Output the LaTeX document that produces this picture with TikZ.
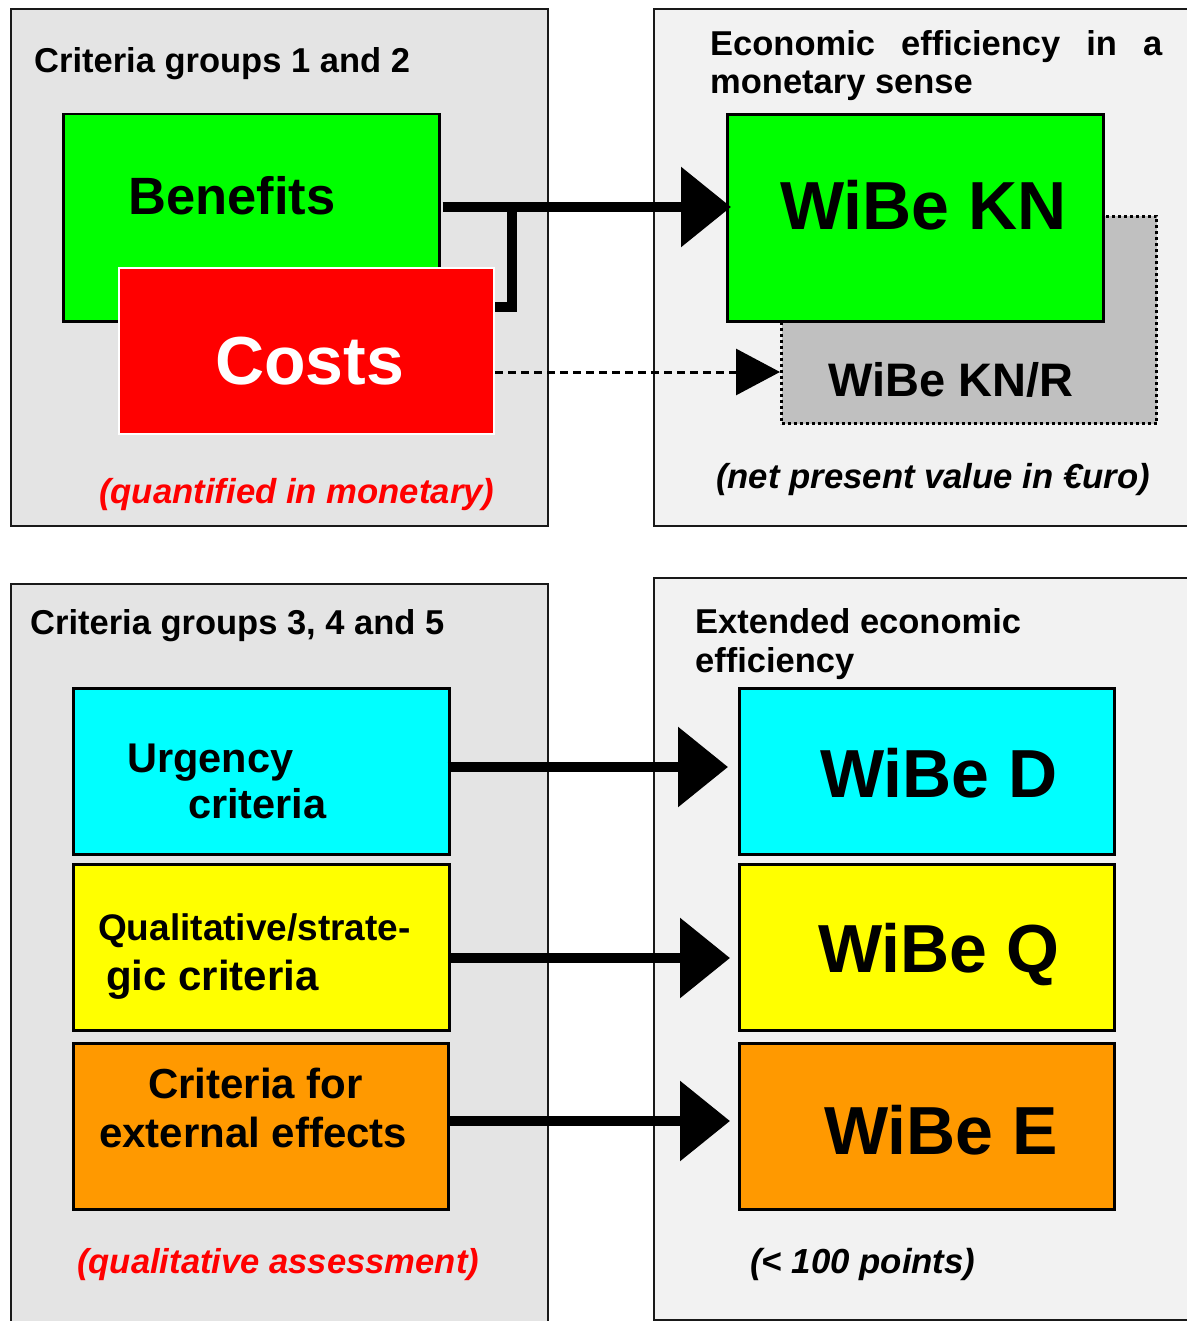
\documentclass[tikz,border=0pt]{standalone}
\usepackage{fontspec}
\setmainfont{Liberation Sans}
\usetikzlibrary{arrows.meta}
\definecolor{panelL}{HTML}{E4E4E4}
\definecolor{panelR}{HTML}{F2F2F2}
\definecolor{cgreen}{HTML}{00FF00}
\definecolor{cred}{HTML}{FF0000}
\definecolor{ccyan}{HTML}{00FFFF}
\definecolor{cyellow}{HTML}{FFFF00}
\definecolor{corange}{HTML}{FF9900}
\definecolor{cgray}{HTML}{C0C0C0}
\newcommand\fsz[1]{\fontsize{#1}{#1}\selectfont\bfseries}
\begin{document}
\begin{tikzpicture}[x=1pt,y=-1pt,
  panel/.style={draw=black!90, line width=2pt, anchor=north west, inner sep=0},
  box/.style={draw=black, line width=2.5pt, anchor=north west, inner sep=0},
  txt/.style={anchor=base west, inner sep=0, font=\fsz{34.5}},
  bigarrow/.style={line width=10pt, -{Triangle[length=50pt,width=78pt]}},
]
\useasboundingbox[fill=white] (0,0) rectangle (1186,1321);
% panels
\node[panel, fill=panelL, minimum width=537pt, minimum height=517pt] (p1) at (10,8) {};
\node[panel, fill=panelR, minimum width=545pt, minimum height=517pt] (p2) at (653,8) {};
\node[panel, fill=panelL, minimum width=537pt, minimum height=760pt] (p3) at (10,583) {};
\node[panel, fill=panelR, minimum width=545pt, minimum height=742pt] (p4) at (653,577) {};
% top-left boxes
\node[box, fill=cgreen, minimum width=376pt, minimum height=207pt] (benefits) at (62,113) {};
\node[box, draw=white, line width=2pt, fill=cred, minimum width=375pt, minimum height=166pt] (costs) at (118,267) {};
% top-right boxes
\node[box, fill=cgray, dash pattern=on 3pt off 3pt, line width=3pt, minimum width=375pt, minimum height=207pt] (knr) at (780,215) {};
\node[box, line width=3pt, fill=cgreen, minimum width=376pt, minimum height=207pt] (kn) at (726,113) {};
% bottom-left boxes
\node[box, fill=ccyan, minimum width=376pt, minimum height=166pt] (urg) at (72,687) {};
\node[box, fill=cyellow, minimum width=376pt, minimum height=166pt] (qual) at (72,863) {};
\node[box, fill=corange, minimum width=375pt, minimum height=166pt] (ext) at (72,1042) {};
% bottom-right boxes
\node[box, fill=ccyan, minimum width=375pt, minimum height=166pt] (wd) at (738,687) {};
\node[box, fill=cyellow, minimum width=375pt, minimum height=166pt] (wq) at (738,863) {};
\node[box, fill=corange, minimum width=375pt, minimum height=166pt] (we) at (738,1042) {};
% texts
\node[txt] (t1) at (34,73) {Criteria groups 1 and 2};
\node[txt, font=\fsz{52.5}] (tben) at (128,215) {Benefits};
\node[txt, font=\fsz{68}, text=white] (tcost) at (215,384) {Costs};
\node[txt, font=\fsz{34.7}\itshape, text=cred] (tq) at (99,503) {(quantified in monetary)};
\node[txt] (t2a) at (710,56) {\makebox[452pt][s]{Economic\hfill efficiency\hfill in\hfill a}};
\node[txt] (t2b) at (710,94) {monetary sense};
\node[txt, font=\fsz{68}] (tkn) at (780,230) {WiBe KN};
\node[txt, font=\fsz{47}] (tknr) at (828,396) {WiBe KN/R};
\node[txt, font=\fsz{34.7}\itshape] (tnpv) at (716,488) {(net present value in €uro)};
\node[txt] (t3) at (30,634) {Criteria groups 3, 4 and 5};
\node[txt] (t4a) at (695,633) {Extended economic};
\node[txt] (t4b) at (695,672) {efficiency};
\node[txt, font=\fsz{41.5}] (tu1) at (127,772) {Urgency};
\node[txt, font=\fsz{41.5}] (tu2) at (188,818) {criteria};
\node[txt, font=\fsz{37}] (tqs1) at (98,940) {Qualitative/strate-};
\node[txt, font=\fsz{42}] (tqs2) at (106,990) {gic criteria};
\node[txt, font=\fsz{42}] (te1) at (148,1098) {Criteria for};
\node[txt, font=\fsz{42}] (te2) at (99,1147) {external effects};
\node[txt, font=\fsz{68}] (twd) at (820,797) {WiBe D};
\node[txt, font=\fsz{68}] (twq) at (818,972) {WiBe Q};
\node[txt, font=\fsz{68}] (twe) at (824,1154) {WiBe E};
\node[txt, font=\fsz{34.6}\itshape, text=cred] (tqa) at (77,1273) {(qualitative assessment)};
\node[txt, font=\fsz{34.8}\itshape] (tpts) at (750,1273) {(< 100 points)};
% connectors
\coordinate (jn) at (512,207);
\draw[line width=10pt] (costs.east |- 0,307) -| (jn);
\draw[bigarrow, shorten <=2pt, shorten >=-5pt] (benefits.east |- 0,207) -- (kn.west |- 0,207);
\draw[line width=3pt, dash pattern=on 8pt off 5pt, -{Triangle[length=44pt,width=46pt]}] (costs.east |- 0,372) -- (knr.west |- 0,372);
\draw[bigarrow, shorten <=-3pt, shorten >=10pt] (urg.east |- 0,767) -- (wd.west |- 0,767);
\draw[bigarrow, shorten >=8pt] (qual.east |- 0,958) -- (wq.west |- 0,958);
\draw[bigarrow, shorten >=8pt] (ext.east |- 0,1121) -- (we.west |- 0,1121);
\end{tikzpicture}
\end{document}
